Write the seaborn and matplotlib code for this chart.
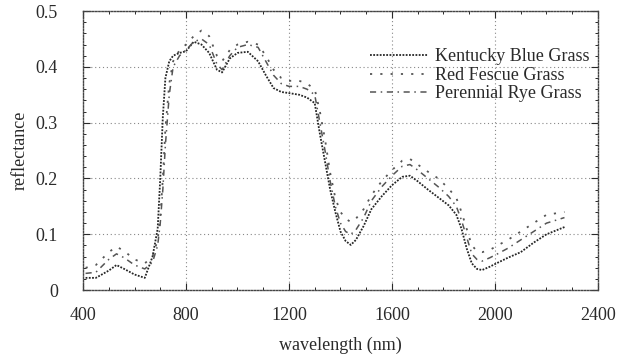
import matplotlib
matplotlib.use("Agg")
import matplotlib.pyplot as plt
from matplotlib.ticker import MultipleLocator
import numpy as np
import pandas as pd
import seaborn as sns

# Spectral reflectance of three turf grasses
wavelength = [410, 450, 500, 530, 560, 600, 640, 670, 690, 700, 710, 720, 735, 750,
              775, 800, 830, 860, 890, 920, 940, 970, 1000, 1040, 1080, 1110, 1140,
              1170, 1200, 1240, 1270, 1300, 1320, 1340, 1360, 1380, 1400, 1420, 1440,
              1460, 1490, 1520, 1560, 1600, 1640, 1670, 1700, 1740, 1780, 1820, 1850,
              1870, 1890, 1910, 1930, 1950, 1980, 2010, 2050, 2100, 2150, 2200, 2270]

kentucky = [0.022, 0.022, 0.035, 0.045, 0.038, 0.028, 0.022, 0.060, 0.110, 0.200,
            0.310, 0.380, 0.410, 0.420, 0.425, 0.428, 0.445, 0.440, 0.425, 0.395,
            0.390, 0.415, 0.425, 0.427, 0.410, 0.385, 0.362, 0.355, 0.353, 0.350,
            0.345, 0.335, 0.280, 0.230, 0.180, 0.140, 0.105, 0.088, 0.081, 0.090,
            0.115, 0.145, 0.168, 0.188, 0.203, 0.205, 0.195, 0.180, 0.166, 0.152,
            0.135, 0.110, 0.075, 0.048, 0.038, 0.036, 0.042, 0.049, 0.058, 0.068,
            0.085, 0.100, 0.113]

red_fescue = [0.040, 0.045, 0.068, 0.078, 0.070, 0.055, 0.048, 0.060, 0.090, 0.130,
              0.200, 0.290, 0.370, 0.410, 0.430, 0.440, 0.455, 0.465, 0.455, 0.420,
              0.410, 0.430, 0.440, 0.445, 0.440, 0.420, 0.395, 0.380, 0.375, 0.375,
              0.370, 0.360, 0.320, 0.270, 0.210, 0.165, 0.140, 0.128, 0.122, 0.128,
              0.145, 0.170, 0.195, 0.215, 0.232, 0.235, 0.225, 0.212, 0.200, 0.182,
              0.165, 0.140, 0.110, 0.080, 0.070, 0.068, 0.072, 0.080, 0.090, 0.105,
              0.120, 0.135, 0.140]

perennial_rye = [0.030, 0.032, 0.055, 0.065, 0.058, 0.045, 0.038, 0.050, 0.080, 0.120,
                 0.180, 0.260, 0.350, 0.400, 0.420, 0.430, 0.445, 0.450, 0.440, 0.405,
                 0.395, 0.420, 0.435, 0.440, 0.435, 0.410, 0.385, 0.370, 0.365, 0.365,
                 0.360, 0.350, 0.300, 0.250, 0.195, 0.150, 0.120, 0.105, 0.100, 0.108,
                 0.130, 0.160, 0.185, 0.205, 0.222, 0.225, 0.215, 0.200, 0.185, 0.168,
                 0.150, 0.125, 0.095, 0.065, 0.055, 0.052, 0.058, 0.065, 0.075, 0.090,
                 0.105, 0.120, 0.130]

series_names = ["Kentucky Blue Grass", "Red Fescue Grass", "Perennial Rye Grass"]
x_ticks = [400, 800, 1200, 1600, 2000, 2400]
y_ticks = [0, 0.1, 0.2, 0.3, 0.4, 0.5]
y_tick_labels = ["0", "0.1", "0.2", "0.3", "0.4", "0.5"]

df = pd.DataFrame({
    "wavelength": wavelength * 3,
    "reflectance": kentucky + red_fescue + perennial_rye,
    "grass": np.repeat(series_names, len(wavelength)),
})

sns.set_style("ticks")
plt.rcParams["font.family"] = ["Liberation Serif", "DejaVu Serif"]

ink = "#2a2a2a"
styles = {
    "Kentucky Blue Grass": dict(ls=(0, (1, 0.8)), lw=1.3, color="#262626"),
    "Red Fescue Grass": dict(ls=(0, (1.2, 4.5)), lw=1.3, color="#555555"),
    "Perennial Rye Grass": dict(ls=(0, (4, 3, 1, 3)), lw=1.1, color="#555555"),
}

fig = plt.figure(figsize=(6.26, 3.56), dpi=100)
ax = fig.add_axes([0.1326, 0.185, 0.8226, 0.784])

for name in series_names:
    st = styles[name]
    sns.lineplot(data=df[df["grass"] == name], x="wavelength", y="reflectance",
                 ax=ax, color=st["color"], linestyle=st["ls"], linewidth=st["lw"],
                 label=name, estimator=None, sort=False)

ax.set_xlim(400, 2400)
ax.set_ylim(0, 0.5)
ax.set_xticks(x_ticks)
ax.set_xticklabels([str(t) for t in x_ticks])
ax.set_yticks(y_ticks)
ax.set_yticklabels(y_tick_labels)
ax.xaxis.set_minor_locator(MultipleLocator(100))
ax.yaxis.set_minor_locator(MultipleLocator(0.02))
ax.tick_params(which="both", direction="in", top=True, right=True,
               colors=ink, labelsize=13, labelcolor=ink)
ax.tick_params(which="major", length=5, width=0.8)
ax.tick_params(which="minor", length=2.5, width=0.7)
ax.tick_params(axis="x", pad=12)
ax.tick_params(axis="y", pad=18)

ax.grid(True, which="major", linestyle=(0, (1, 2.5)), color="#888888", linewidth=0.8)
for sp in ax.spines.values():
    sp.set_linestyle((0, (1, 1.2)))
    sp.set_color("#444444")
    sp.set_linewidth(1.0)

ax.set_xlabel("wavelength (nm)", fontsize=13, color=ink, labelpad=9)
ax.set_ylabel("reflectance", fontsize=13, color=ink, labelpad=5)

leg = ax.legend(loc="upper left", bbox_to_anchor=(0.557, 0.866), frameon=False,
                fontsize=13, handlelength=3.2, handletextpad=0.4,
                labelspacing=0.08, borderaxespad=0, borderpad=0)
for t in leg.get_texts():
    t.set_color(ink)

fig.savefig("out.png", dpi=100)
